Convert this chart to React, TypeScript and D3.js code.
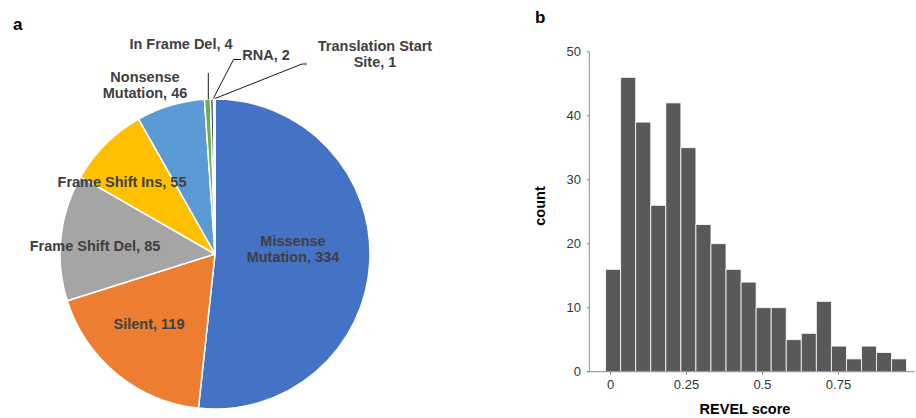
import React from "react";
import * as d3 from "d3";

const pieCategories = [
  "Missense Mutation",
  "Silent",
  "Frame Shift Del",
  "Frame Shift Ins",
  "Nonsense Mutation",
  "In Frame Del",
  "RNA",
  "Translation Start Site",
];
const pieValues = [334, 119, 85, 55, 46, 4, 2, 1];
const pieColors = ["#4472C4", "#ED7D31", "#A5A5A5", "#FFC000", "#5B9BD5", "#70AD47", "#264478", "#9E480E"];

const histCounts = [16, 46, 39, 26, 42, 35, 23, 20, 16, 14, 10, 10, 5, 6, 11, 4, 2, 4, 3, 2];
const histBinStart = -0.016;
const histBinWidth = 0.0495;
const xTicks = [0, 0.25, 0.5, 0.75];
const xTickLabels = ["0", "0.25", "0.5", "0.75"];
const yTicks = [0, 10, 20, 30, 40, 50];

const FONT = "Liberation Sans, Arial, Helvetica, sans-serif";

export default function App() {
  // Pie
  const cx = 215, cy = 254, r = 155;
  const pieGen = d3.pie<number>().sort(null).value((d) => d);
  const arcs = pieGen(pieValues);
  const arcGen = d3.arc<d3.PieArcDatum<number>>().innerRadius(0).outerRadius(r);

  type Lbl = { lines: string[]; x: number; y: number };
  const labels: Lbl[] = [
    { lines: ["Missense", "Mutation, 334"], x: 293, y: 246 },
    { lines: ["Silent, 119"], x: 149, y: 329 },
    { lines: ["Frame Shift Del, 85"], x: 95, y: 251 },
    { lines: ["Frame Shift Ins, 55"], x: 122, y: 187 },
    { lines: ["Nonsense", "Mutation, 46"], x: 145, y: 81.5 },
    { lines: ["In Frame Del, 4"], x: 181, y: 48.5 },
    { lines: ["RNA, 2"], x: 266, y: 60 },
    { lines: ["Translation Start", "Site, 1"], x: 375, y: 51 },
  ];
  const leaders: [number, number][][] = [
    [],
    [],
    [],
    [],
    [],
    [[208.3, 73], [208.3, 99.5]],
    [[241, 59.5], [233.5, 59.5], [213.3, 98.5]],
    [[307, 64], [302, 64], [215, 98.5]],
  ];

  // Histogram
  const x = d3.scaleLinear().domain([0, 1]).range([610.5, 914.5]);
  const y = d3.scaleLinear().domain([0, 50]).range([371.7, 51.7]);
  const axisX0 = 589.3;
  const line = d3.line();

  return (
    <svg
      width={916}
      height={418}
      style={{ position: "absolute", left: 0, top: 0, background: "#fff" }}
      fontFamily={FONT}
    >
      <rect x={0} y={0} width={916} height={418} fill="#fff" />
      <text x={13} y={30} fontSize={17} fontWeight="bold" fill="#000">a</text>
      <text x={535} y={23} fontSize={17} fontWeight="bold" fill="#000">b</text>

      <g transform={`translate(${cx},${cy})`}>
        {arcs.map((a, i) => (
          <path key={i} d={arcGen(a) || ""} fill={pieColors[i]} stroke="#fff" strokeWidth={1.5} strokeLinejoin="round" />
        ))}
      </g>
      {leaders.map((pts, i) =>
        pts.length ? (
          <path key={i} d={line(pts) || ""} fill="none" stroke="#000" strokeWidth={0.9} />
        ) : null
      )}
      {labels.map((l, i) => (
        <text key={i} x={l.x} y={l.y} fontSize={14.5} fontWeight="bold" fill="#404040" textAnchor="middle">
          {l.lines.map((s, j) => (
            <tspan key={j} x={l.x} dy={j === 0 ? 0 : 16}>{s}</tspan>
          ))}
        </text>
      ))}

      {/* Histogram bars */}
      {histCounts.map((c, i) => {
        const x0 = x(histBinStart + i * histBinWidth);
        const x1 = x(histBinStart + (i + 1) * histBinWidth);
        return (
          <rect key={i} x={x0} y={y(c)} width={x1 - x0} height={y(0) - y(c)} fill="#595959" stroke="#fff" strokeWidth={0.8} />
        );
      })}
      {/* axes */}
      <line x1={axisX0} x2={axisX0} y1={y(50)} y2={y(0)} stroke="#8a8a8a" strokeWidth={1} />
      <line x1={axisX0 - 2} x2={915} y1={y(0)} y2={y(0)} stroke="#8a8a8a" strokeWidth={1} />
      {yTicks.map((t) => (
        <g key={t}>
          <line x1={axisX0 - 2.5} x2={axisX0} y1={y(t)} y2={y(t)} stroke="#8a8a8a" />
          <text x={581} y={y(t) + 4.3} fontSize={13} fill="#333" textAnchor="end">{t}</text>
        </g>
      ))}
      {xTicks.map((t, i) => (
        <g key={t}>
          <line x1={x(t)} x2={x(t)} y1={y(0)} y2={y(0) + 3} stroke="#8a8a8a" />
          <text x={x(t)} y={388.5} fontSize={13} fill="#333" textAnchor="middle">{xTickLabels[i]}</text>
        </g>
      ))}
      <text x={745} y={414} fontSize={14.5} fontWeight="bold" fill="#000" textAnchor="middle">REVEL score</text>
      <text transform={`translate(545,206) rotate(-90)`} fontSize={14.5} fontWeight="bold" fill="#000" textAnchor="middle">count</text>
    </svg>
  );
}
